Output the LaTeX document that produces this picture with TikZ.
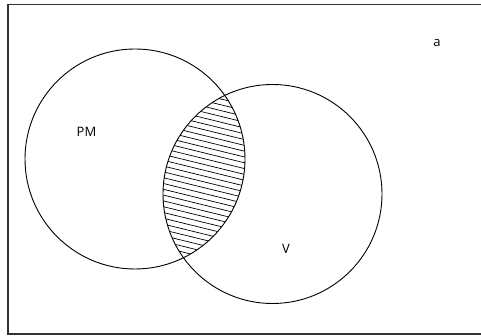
\documentclass[tikz,border=0pt]{standalone}
\usepackage{fontspec}
\setmainfont{Open Sans}
\begin{document}
\begin{tikzpicture}[x=1pt,y=-1pt,
  frame/.style={draw=black!80,line width=1.3pt},
  setc/.style={draw=black,line width=0.9pt},
  hatch/.style={draw=black,line width=0.7pt},
  lbl/.style={font=\fontsize{13}{15}\selectfont,inner sep=0pt}]
\useasboundingbox (0,0) rectangle (481,336);
\clip (0,0) rectangle (481,336);
\draw[frame] (8,4.5) rectangle (485,334);
\coordinate (cpm) at (135,159);
\coordinate (cv) at (272.5,194);
\begin{scope}
  \clip (cpm) circle (110);
  \clip (cv) circle (109.5);
  \foreach \i in {0,...,42} {
    \draw[hatch] (150,{70+5.8*\i}) -- (260,{70+5.8*\i+27});
  }
\end{scope}
\draw[setc] (cpm) circle (110);
\draw[setc] (cv) circle (109.5);
\node[lbl] (pm) at (86.5,132) {PM};
\node[lbl] (v) at (286,248.5) {V};
\node[lbl] (a) at (437,43) {a};
\end{tikzpicture}
\end{document}
